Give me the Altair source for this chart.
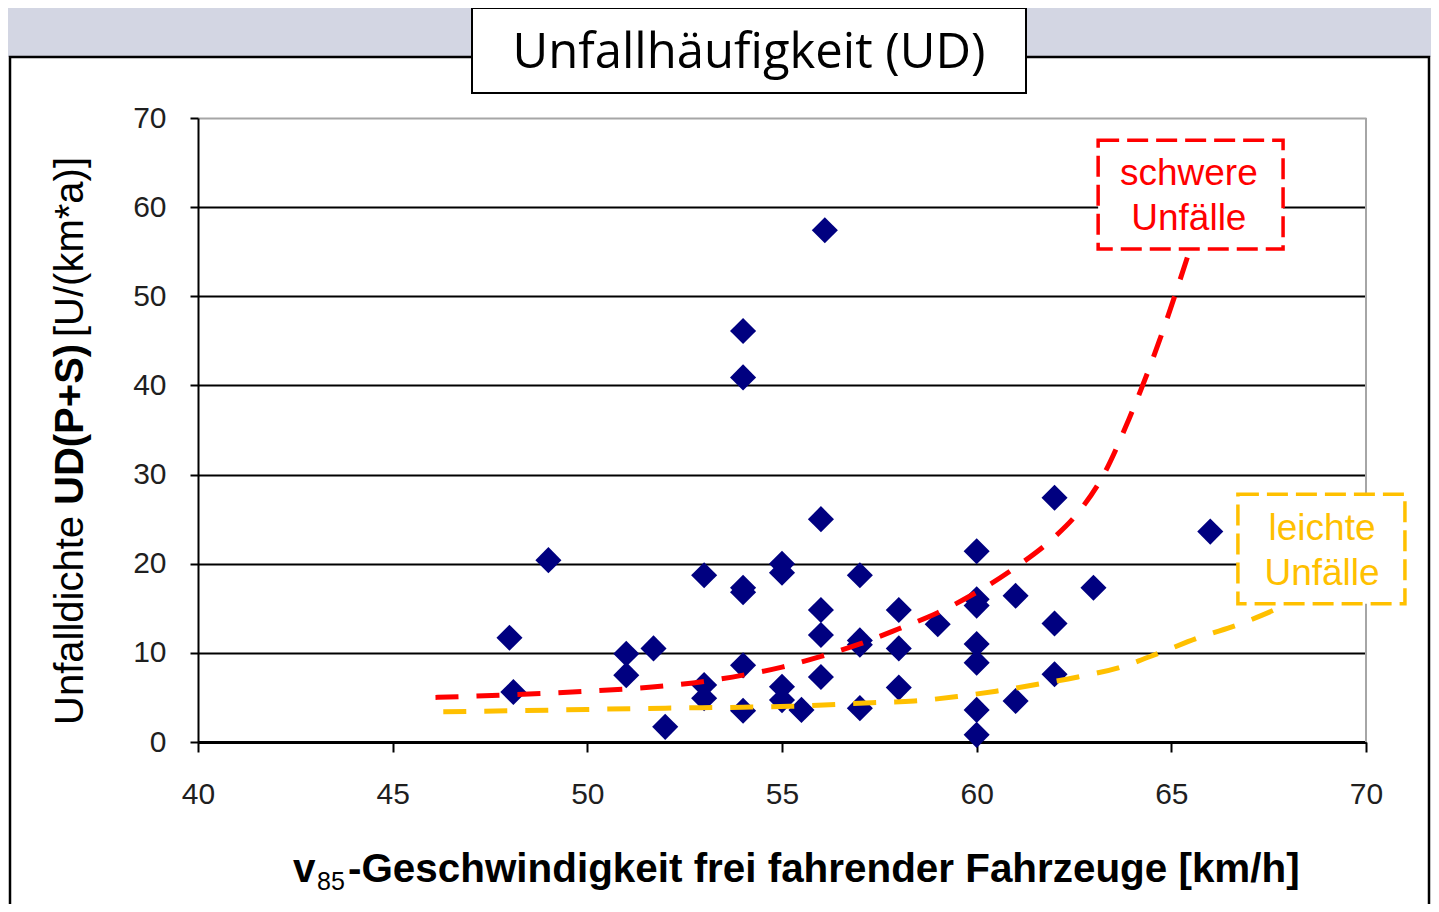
import altair as alt
import pandas as pd

# ---- data ----
speed = [48.0, 48.1, 49.0, 51.0, 51.0, 51.7, 52.0, 53.0, 53.0, 53.0,
         54.0, 54.0, 54.0, 54.0, 54.0, 54.0, 55.0, 55.0, 55.0, 55.0,
         55.5, 56.1, 56.0, 56.0, 56.0, 56.0, 57.0, 57.0, 57.0, 57.0,
         58.0, 58.0, 58.0, 59.0, 60.0, 60.0, 60.0, 60.0, 60.0, 60.0,
         60.0, 61.0, 61.0, 62.0, 62.0, 62.0, 63.0, 66.0]
density = [11.7, 5.6, 20.4, 9.9, 7.5, 10.5, 1.7, 18.7, 6.4, 4.9,
           46.1, 40.9, 17.3, 16.8, 8.6, 3.5, 20.0, 19.0, 6.2, 4.7,
           3.6, 57.4, 25.0, 14.8, 12.0, 7.3, 18.7, 11.4, 10.9, 3.8,
           14.8, 10.5, 6.1, 13.2, 21.4, 16.0, 15.3, 11.0, 8.9, 3.6,
           0.8, 16.4, 4.6, 27.4, 13.3, 7.6, 17.3, 23.6]

red_x = [46.1, 48.0, 50.0, 52.0, 53.0, 54.0, 55.0, 56.0, 57.0, 58.0,
         59.0, 60.0, 61.0, 62.0, 62.6, 63.25, 63.9, 64.7, 65.48]
red_y = [5.0, 5.3, 5.7, 6.3, 6.8, 7.5, 8.4, 9.6, 11.0, 12.7,
         14.5, 16.8, 19.6, 23.0, 25.7, 29.9, 36.1, 45.1, 55.3]

yel_x = [46.3, 48.0, 50.0, 52.0, 54.0, 55.2, 57.3, 58.4, 59.5, 60.5,
         61.6, 62.6, 63.7, 64.7, 65.7, 66.8, 67.9]
yel_y = [3.4, 3.5, 3.65, 3.8, 3.9, 4.0, 4.4, 4.6, 5.1, 5.7,
         6.5, 7.3, 8.4, 10.0, 11.7, 13.3, 15.3]

x_ticks = [40, 45, 50, 55, 60, 65, 70]
y_ticks = [0, 10, 20, 30, 40, 50, 60, 70]

title_text = "Unfallhäufigkeit (UD)"
x_title_parts = ["v", "85", "-Geschwindigkeit frei fahrender Fahrzeuge [km/h]"]
y_title_parts = ["Unfalldichte", "UD(P+S)", "[U/(km*a)]"]
red_label = ["schwere", "Unfälle"]
yel_label = ["leichte", "Unfälle"]

# ---- tables ----
pts = pd.DataFrame({"x": speed, "y": density})
red = pd.DataFrame({"x": red_x, "y": red_y})
yel = pd.DataFrame({"x": yel_x, "y": yel_y})

FONT = "Liberation Sans"
XS = alt.Scale(domain=[40, 70], nice=False, zero=False)
YS = alt.Scale(domain=[0, 70], nice=False, zero=False)
XA = alt.Axis(values=x_ticks, labelFontSize=30, labelFont=FONT, labelColor="#1f1f1f",
              tickSize=10, tickWidth=2, tickColor="black", domainColor="black",
              domainWidth=3, labelPadding=27, grid=False, labelFlush=False, title=None)
YA = alt.Axis(values=y_ticks, labelFontSize=30, labelFont=FONT, labelColor="#1f1f1f",
              tickSize=8, tickWidth=2, tickColor="black", domainColor="black",
              domainWidth=2, labelPadding=24, grid=True, gridWidth=2,
              gridColor={"condition": {"test": "datum.value === 70", "value": "#a6a6a6"},
                         "value": "black"},
              labelFlush=False, title=None)


def X():
    return alt.X("x:Q", scale=XS, axis=XA, title=None)


def Y():
    return alt.Y("y:Q", scale=YS, axis=YA, title=None)


one = alt.Data(values=[{"k": 1}])

# decorations (page frame, title box)
bg_strip = alt.Chart(one).mark_rect(fill="#d3d6e3").encode(
    x=alt.value(-200), x2=alt.value(1300), y=alt.value(-120), y2=alt.value(-61))
frame = alt.Chart(one).mark_rect(fill="white", fillOpacity=0, stroke="black", strokeWidth=2.5).encode(
    x=alt.value(-188), x2=alt.value(1231), y=alt.value(-61), y2=alt.value(820))
title_box = alt.Chart(one).mark_rect(fill="white", stroke="black", strokeWidth=2).encode(
    x=alt.value(274), x2=alt.value(828), y=alt.value(-110), y2=alt.value(-25))
title = alt.Chart(one).mark_text(text=title_text, font="Open Sans", fontSize=49,
                                 align="center", baseline="alphabetic", color="black").encode(
    x=alt.value(551), y=alt.value(-50))
right_border = alt.Chart(one).mark_rule(color="#a6a6a6", strokeWidth=2).encode(
    x=alt.value(1168), y=alt.value(0), y2=alt.value(624))

points = alt.Chart(pts).mark_point(shape="diamond", filled=True, size=680,
                                   color="#000080", opacity=1).encode(x=X(), y=Y())

red_line = alt.Chart(red).mark_line(color="#ff0000", strokeWidth=5, strokeDash=[23, 18],
                                    interpolate="monotone").encode(x=X(), y=Y())
yel_line = alt.Chart(yel).mark_line(color="#ffc000", strokeWidth=5, strokeDash=[23, 18],
                                    interpolate="monotone").encode(x=X(), y=Y())

# annotation boxes (data coordinates)
red_box_df = pd.DataFrame({"x": [63.12], "x2": [67.87], "y": [55.3], "y2": [67.5]})
yel_box_df = pd.DataFrame({"x": [66.71], "x2": [71.0], "y": [15.5], "y2": [27.8]})
red_box = alt.Chart(red_box_df).mark_rect(fill="white", stroke="#ff0000", strokeWidth=3.5,
                                          strokeDash=[21, 8]).encode(
    x=X(), x2="x2:Q", y=Y(), y2="y2:Q")
yel_box = alt.Chart(yel_box_df).mark_rect(fill="white", stroke="#ffc000", strokeWidth=3.5,
                                          strokeDash=[21, 8]).encode(
    x=X(), x2="x2:Q", y=Y(), y2="y2:Q")

red_txt_df = pd.DataFrame({"t": red_label, "x": [65.45, 65.45], "y": [62.5, 57.4]})
yel_txt_df = pd.DataFrame({"t": yel_label, "x": [68.87, 68.87], "y": [22.66, 17.62]})
red_txt = alt.Chart(red_txt_df).mark_text(font=FONT, fontSize=37, color="#ff0000",
                                          align="center", baseline="alphabetic").encode(
    x=X(), y=Y(), text="t:N")
yel_txt = alt.Chart(yel_txt_df).mark_text(font=FONT, fontSize=37, color="#ffc000",
                                          align="center", baseline="alphabetic").encode(
    x=X(), y=Y(), text="t:N")

# axis titles drawn as text pieces (mixed bold / subscript)
xt_v = alt.Chart(one).mark_text(text=x_title_parts[0], font=FONT, fontSize=40.4, fontWeight="bold",
                                align="left", baseline="alphabetic", color="black").encode(
    x=alt.value(95), y=alt.value(764))
xt_85 = alt.Chart(one).mark_text(text=x_title_parts[1], font=FONT, fontSize=25,
                                 align="left", baseline="alphabetic", color="black").encode(
    x=alt.value(119), y=alt.value(772))
xt_rest = alt.Chart(one).mark_text(text=x_title_parts[2], font=FONT, fontSize=40.4, fontWeight="bold",
                                   align="left", baseline="alphabetic", color="black").encode(
    x=alt.value(150), y=alt.value(764))

yt1 = alt.Chart(one).mark_text(text=y_title_parts[0], font=FONT, fontSize=40, angle=270,
                               align="left", baseline="alphabetic", color="black").encode(
    x=alt.value(-115), y=alt.value(607))
yt2 = alt.Chart(one).mark_text(text=y_title_parts[1], font=FONT, fontSize=40, fontWeight="bold",
                               angle=270, align="left", baseline="alphabetic", color="black").encode(
    x=alt.value(-115), y=alt.value(387))
yt3 = alt.Chart(one).mark_text(text=y_title_parts[2], font=FONT, fontSize=40, angle=270,
                               align="left", baseline="alphabetic", color="black").encode(
    x=alt.value(-115), y=alt.value(219))

chart = alt.layer(
    bg_strip, frame, title_box, title, right_border,
    points, red_line, yel_line, red_box, yel_box, red_txt, yel_txt,
    xt_v, xt_85, xt_rest, yt1, yt2, yt3,
).properties(
    width=1168, height=624,
    autosize=alt.AutoSizeParams(type="none"),
    padding={"left": 190, "top": 110, "right": 65, "bottom": 162},
    background="white",
).configure_view(strokeWidth=0)

chart.save("out.html", embed_options={"renderer": "svg", "actions": False})
